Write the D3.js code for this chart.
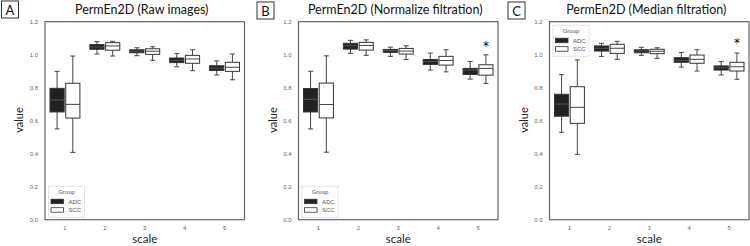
<!DOCTYPE html>
<html>
<head>
<meta charset="utf-8">
<script src="https://cdn.jsdelivr.net/npm/d3@7"></script>
<style>
  body { margin: 0; background: #fff; }
  svg { display: block; }
</style>
</head>
<body>
<div id="chart-area"></div>
<script>
// data: [lower whisker, q1, median, q3, upper whisker] per scale
const scales = ['1', '2', '3', '4', '5'];
const groups = ['ADC', 'SCC'];
const yTicks = [0.0, 0.2, 0.4, 0.6, 0.8, 1.0, 1.2];

const rawADC = [
    [0.550, 0.653, 0.725, 0.796, 0.899],
    [1.004, 1.033, 1.047, 1.061, 1.079],
    [0.994, 1.012, 1.022, 1.030, 1.042],
    [0.927, 0.952, 0.966, 0.980, 1.006],
    [0.877, 0.905, 0.918, 0.933, 0.962]
];
const rawSCC = [
    [0.408, 0.616, 0.699, 0.827, 0.992],
    [0.992, 1.027, 1.053, 1.073, 1.081],
    [0.966, 1.002, 1.021, 1.036, 1.048],
    [0.903, 0.948, 0.974, 0.996, 1.030],
    [0.848, 0.899, 0.924, 0.954, 1.004]
];
const normADC = [
    [0.550, 0.653, 0.730, 0.795, 0.900],
    [1.008, 1.034, 1.054, 1.069, 1.087],
    [0.990, 1.014, 1.024, 1.032, 1.046],
    [0.907, 0.941, 0.959, 0.971, 1.010],
    [0.852, 0.880, 0.907, 0.917, 0.959]
];
const normSCC = [
    [0.409, 0.617, 0.698, 0.828, 0.993],
    [0.996, 1.028, 1.056, 1.075, 1.090],
    [0.971, 1.004, 1.022, 1.038, 1.054],
    [0.896, 0.937, 0.965, 0.990, 1.030],
    [0.826, 0.876, 0.917, 0.939, 0.999]
];
const medADC = [
    [0.530, 0.627, 0.701, 0.760, 0.879],
    [0.990, 1.022, 1.039, 1.053, 1.069],
    [0.996, 1.012, 1.022, 1.030, 1.045],
    [0.925, 0.954, 0.966, 0.982, 1.014],
    [0.877, 0.907, 0.921, 0.932, 0.958]
];
const medSCC = [
    [0.396, 0.584, 0.681, 0.806, 0.968],
    [0.972, 1.008, 1.039, 1.063, 1.081],
    [0.978, 1.006, 1.021, 1.033, 1.042],
    [0.901, 0.948, 0.972, 0.998, 1.030],
    [0.851, 0.901, 0.927, 0.954, 1.010]
];

const panels = [
    { letter: 'A', title: 'PermEn2D (Raw images)', adc: rawADC, scc: rawSCC,
      star: null, left: 45, letterY: 1, legendTop: false },
    { letter: 'B', title: 'PermEn2D (Normalize filtration)', adc: normADC, scc: normSCC,
      star: 1.085, left: 298.5, letterY: 2, legendTop: false },
    { letter: 'C', title: 'PermEn2D (Median filtration)', adc: medADC, scc: medSCC,
      star: 1.10, left: 549.5, letterY: 2, legendTop: true }
];
const letterX = [1.5, 257, 508];

const W = 750, H = 246;
const plotW = 199.5;
const plotTop = 21.7, plotBottom = 219.7;

const svg = d3.select('#chart-area')
    .append('svg')
        .attr('width', W)
        .attr('height', H);

const y = d3.scaleLinear()
    .domain([0, 1.2])
    .range([plotBottom, plotTop]);

const fill = { ADC: '#222222', SCC: '#ffffff' };

panels.forEach((p, pi) => {
    const g = svg.append('g')
        .attr('transform', `translate(${p.left}, 0)`);

    const x = d3.scaleBand()
        .domain(scales)
        .range([0, plotW]);

    const xg = d3.scaleBand()
        .domain(groups)
        .range([5, x.bandwidth() - 5])
        .paddingInner(0.1);

    // y ticks
    const yAxis = g.append('g')
        .call(d3.axisLeft(y).tickValues(yTicks).tickSize(0).tickPadding(7)
            .tickFormat(d3.format('.1f')));
    yAxis.select('.domain').remove();
    yAxis.selectAll('text')
        .attr('font-family', 'Liberation Sans, Arial, sans-serif')
        .attr('font-size', '6px')
        .attr('fill', '#666');

    // x ticks
    const xAxis = g.append('g')
        .attr('transform', `translate(0, ${plotBottom})`)
        .call(d3.axisBottom(x).tickSize(0).tickPadding(6));
    xAxis.select('.domain').remove();
    xAxis.selectAll('text')
        .attr('font-family', 'Liberation Sans, Arial, sans-serif')
        .attr('font-size', '6px')
        .attr('fill', '#666');

    // boxes
    groups.forEach(grp => {
        const stats = grp === 'ADC' ? p.adc : p.scc;
        stats.forEach((s, i) => {
            const cx = x(scales[i]) + xg(grp) + xg.bandwidth() / 2;
            const bw = xg.bandwidth();
            const capW = 5;
            const b = g.append('g');
            b.append('line')
                .attr('x1', cx).attr('x2', cx)
                .attr('y1', y(s[0])).attr('y2', y(s[1]))
                .attr('stroke', '#444').attr('stroke-width', 1);
            b.append('line')
                .attr('x1', cx).attr('x2', cx)
                .attr('y1', y(s[3])).attr('y2', y(s[4]))
                .attr('stroke', '#444').attr('stroke-width', 1);
            [s[0], s[4]].forEach(v => {
                b.append('line')
                    .attr('x1', cx - capW / 2).attr('x2', cx + capW / 2)
                    .attr('y1', y(v)).attr('y2', y(v))
                    .attr('stroke', '#444').attr('stroke-width', 1);
            });
            b.append('rect')
                .attr('x', cx - bw / 2)
                .attr('y', y(s[3]))
                .attr('width', bw)
                .attr('height', y(s[1]) - y(s[3]))
                .attr('fill', fill[grp])
                .attr('stroke', '#333')
                .attr('stroke-width', 1);
            b.append('line')
                .attr('x1', cx - bw / 2).attr('x2', cx + bw / 2)
                .attr('y1', y(s[2])).attr('y2', y(s[2]))
                .attr('stroke', grp === 'ADC' ? '#555' : '#444')
                .attr('stroke-width', 1);
        });
    });

    // significance star
    if (p.star !== null) {
        const cx = x('5') + xg('SCC') + xg.bandwidth() / 2;
        g.append('text')
            .attr('x', cx)
            .attr('y', y(p.star))
            .attr('dy', '0.75em')
            .attr('text-anchor', 'middle')
            .attr('font-family', 'DejaVu Sans, sans-serif')
            .attr('font-size', '12px')
            .attr('fill', '#000')
            .text('*');
    }

    // frame
    g.append('rect')
        .attr('x', 0)
        .attr('y', plotTop)
        .attr('width', plotW)
        .attr('height', plotBottom - plotTop)
        .attr('fill', 'none')
        .attr('stroke', '#666')
        .attr('stroke-width', 1.2);

    // legend
    const lx = 3.5;
    const ly = p.legendTop ? plotTop + 3.5 : plotBottom - 33.5;
    const leg = g.append('g')
        .attr('transform', `translate(${lx}, ${ly})`);
    leg.append('rect')
        .attr('width', 36)
        .attr('height', 31)
        .attr('fill', '#fff')
        .attr('stroke', '#ddd')
        .attr('stroke-width', 0.8);
    leg.append('text')
        .attr('x', 18)
        .attr('y', 7.5)
        .attr('text-anchor', 'middle')
        .attr('font-family', 'Liberation Sans, Arial, sans-serif')
        .attr('font-size', '6px')
        .attr('fill', '#555')
        .text('Group');
    groups.forEach((grp, i) => {
        leg.append('rect')
            .attr('x', 2.5)
            .attr('y', 13 + i * 8.5)
            .attr('width', 12.5)
            .attr('height', 4.5)
            .attr('fill', fill[grp])
            .attr('stroke', '#333')
            .attr('stroke-width', 0.8);
        leg.append('text')
            .attr('x', 20)
            .attr('y', 17.5 + i * 8.5)
            .attr('font-family', 'Liberation Sans, Arial, sans-serif')
            .attr('font-size', '6px')
            .attr('fill', '#555')
            .text(grp);
    });

    // title
    g.append('text')
        .attr('x', plotW / 2 - 3)
        .attr('y', 14)
        .attr('text-anchor', 'middle')
        .attr('font-family', 'Lato, sans-serif')
        .attr('font-size', '12.5px')
        .attr('fill', '#111')
        .text(p.title);

    // x label
    g.append('text')
        .attr('x', plotW / 2)
        .attr('y', 243)
        .attr('text-anchor', 'middle')
        .attr('font-family', 'Lato, sans-serif')
        .attr('font-size', '11.5px')
        .attr('fill', '#222')
        .text('scale');

    // y label
    g.append('text')
        .attr('transform', `translate(-22, 120) rotate(-90)`)
        .attr('text-anchor', 'middle')
        .attr('font-family', 'Lato, sans-serif')
        .attr('font-size', '11px')
        .attr('fill', '#222')
        .text('value');

    // panel letter
    const lb = svg.append('g')
        .attr('transform', `translate(${letterX[pi]}, ${p.letterY})`);
    lb.append('rect')
        .attr('width', 17)
        .attr('height', 17)
        .attr('fill', '#fff')
        .attr('stroke', '#333')
        .attr('stroke-width', 1);
    lb.append('text')
        .attr('x', 8.5)
        .attr('y', 13.5)
        .attr('text-anchor', 'middle')
        .attr('font-family', 'Lato, sans-serif')
        .attr('font-size', '13px')
        .attr('fill', '#111')
        .text(p.letter);
});
</script>
</body>
</html>
